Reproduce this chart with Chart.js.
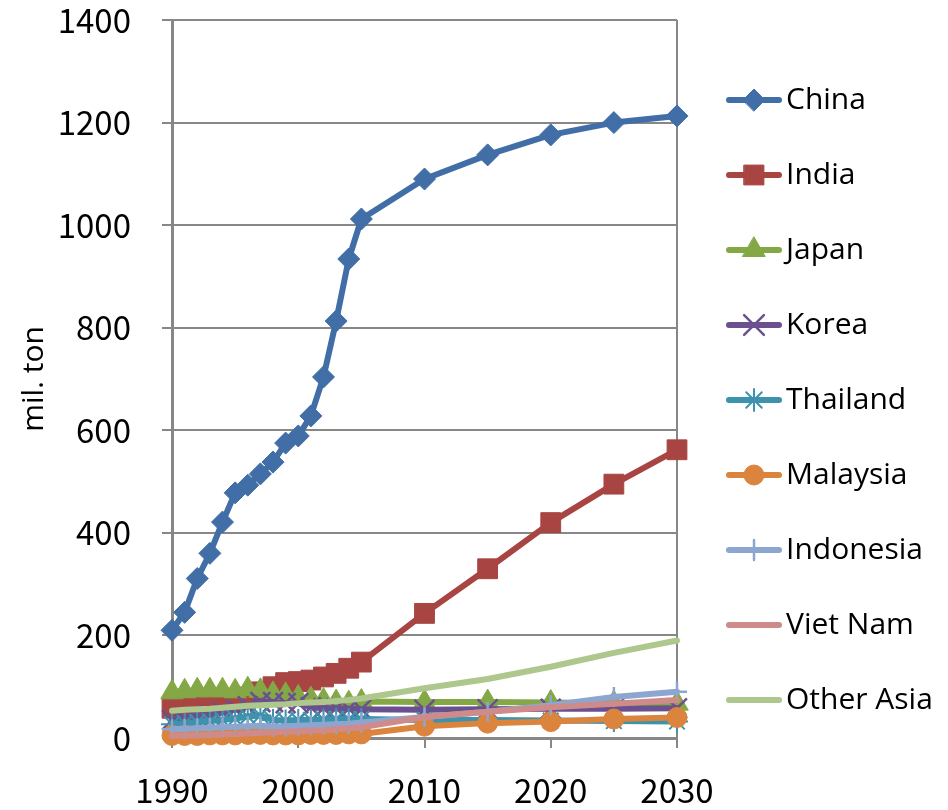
<!DOCTYPE html>
<html>
<head>
<meta charset="utf-8">
<script src="https://cdn.jsdelivr.net/npm/chart.js@4/dist/chart.umd.min.js"></script>
<style>
  html, body { margin: 0; padding: 0; background: #ffffff; }
  #wrap { width: 948px; height: 810px; }
</style>
</head>
<body>
<div id="wrap"><canvas id="c" width="948" height="810"></canvas></div>
<script>
// Years on the horizontal axis (yearly to 2005, then five-year steps)
const years = [1990, 1991, 1992, 1993, 1994, 1995, 1996, 1997, 1998, 1999, 2000,
               2001, 2002, 2003, 2004, 2005, 2010, 2015, 2020, 2025, 2030];

// Production by country, mil. ton
const china     = [210, 245, 311, 360, 421, 478, 493, 515, 538, 575, 589, 628, 704, 813, 934, 1012, 1090, 1137, 1176, 1200, 1213];
const india     = [58, 60, 62, 64, 66, 70, 80, 90, 100, 108, 110, 113, 119, 126, 136, 148, 243, 330, 420, 495, 562];
const japan     = [89, 91, 93, 93, 93, 91, 95, 92, 86, 84, 79, 76, 73, 70, 68, 71, 70, 70, 69, 68, 67];
const korea     = [35, 38, 42, 45, 50, 56, 62, 70, 70, 68, 68, 60, 58, 58, 57, 56, 55, 56, 57, 57, 58];
const thailand  = [27, 29, 31, 33, 35, 38, 42, 44, 35, 34, 35, 35, 36, 37, 37, 37, 35, 35, 34, 33, 32];
const malaysia  = [5, 5, 5, 6, 6, 6, 7, 7, 6, 6, 6, 7, 7, 7, 8, 8, 23, 29, 32, 37, 40];
const indonesia = [17, 18, 19, 20, 21, 22, 23, 24, 22, 23, 24, 25, 26, 27, 28, 30, 41, 51, 64, 80, 90];
const vietnam   = [4, 5, 5, 6, 7, 8, 9, 10, 11, 12, 13, 14, 15, 17, 19, 21, 41, 51, 60, 67, 74];
const otherAsia = [53, 55, 56, 57, 59, 61, 63, 64, 65, 66, 68, 69, 70, 72, 74, 77, 97, 115, 139, 166, 190];

const seriesNames = ['China', 'India', 'Japan', 'Korea', 'Thailand', 'Malaysia', 'Indonesia', 'Viet Nam', 'Other Asia'];
const seriesValues = [china, india, japan, korea, thailand, malaysia, indonesia, vietnam, otherAsia];

// Axis settings
const yTicks = { min: 0, max: 1400, step: 200 };
const xTicks = { min: 1990, max: 2030, step: 10 };

// Look of each series: colour, marker shape, marker size, marker outline width
const styles = [
  { color: '#416EA6', marker: 'rectRot',  r: 11, bw: 1 },
  { color: '#A84543', marker: 'rect',     r: 14, bw: 1 },
  { color: '#83A845', marker: 'triangle', r: 13, bw: 1 },
  { color: '#6B508F', marker: 'crossRot', r: 14, bw: 2.5 },
  { color: '#3C93AB', marker: 'star',     r: 11, bw: 2 },
  { color: '#DB843D', marker: 'circle',   r: 10, bw: 1 },
  { color: '#8DA6D0', marker: 'cross',    r: 10, bw: 2.5 },
  { color: '#CF8B8A', marker: false,      r: 0,  bw: 0 },
  { color: '#AEC78D', marker: false,      r: 0,  bw: 0 }
];

const GRID = '#878787';
const LINE_W = 6;

// Small legend swatches: a stroke of the series line with its marker
function makeSwatch(st) {
  const cv = document.createElement('canvas');
  cv.width = 71; cv.height = 32;
  const g = cv.getContext('2d');
  g.strokeStyle = st.color;
  g.lineWidth = LINE_W;
  g.lineCap = 'round';
  g.beginPath();
  g.moveTo(18, 16);
  g.lineTo(68, 16);
  g.stroke();
  if (st.marker) {
    g.fillStyle = st.color;
    g.strokeStyle = st.color;
    g.lineWidth = st.bw;
    Chart.helpers.drawPoint(g, { pointStyle: st.marker, radius: st.r, rotation: 0, borderWidth: st.bw }, 43, 16);
  }
  return cv;
}
const swatches = styles.map(makeSwatch);

const datasets = seriesNames.map((name, i) => {
  const st = styles[i];
  return {
    label: name,
    data: years.map((yr, k) => ({ x: yr, y: seriesValues[i][k] })),
    borderColor: st.color,
    backgroundColor: st.color,
    borderWidth: LINE_W,
    borderJoinStyle: 'round',
    borderCapStyle: 'round',
    tension: 0,
    pointStyle: st.marker || 'circle',
    pointRadius: st.r,
    pointBorderWidth: st.bw,
    pointBackgroundColor: st.color,
    pointBorderColor: st.color,
    pointHoverRadius: st.r,
    clip: false,
    order: seriesNames.length - i
  };
});

// Legend column: fixed width so the plot ends at the same place,
// and the list of entries nudged up a little
const legendPlacement = {
  id: 'legendPlacement',
  beforeLayout(chart) {
    const lg = chart.legend;
    if (lg && !lg._fixedFit) {
      const fit = lg.fit.bind(lg);
      lg.fit = function () { fit(); this.width = 262; };
      lg._fixedFit = true;
    }
  },
  afterLayout(chart) {
    const lg = chart.legend;
    if (lg) { lg.top -= 5; lg.bottom -= 5; }
  }
};

const chart = new Chart(document.getElementById('c'), {
  type: 'line',
  data: { datasets },
  plugins: [legendPlacement],
  options: {
    responsive: false,
    animation: false,
    events: [],
    layout: { padding: { top: 0, right: 9, bottom: 0, left: 0 } },
    scales: {
      x: {
        type: 'linear',
        min: xTicks.min,
        max: xTicks.max,
        afterFit(s) { s.height = 72; s.paddingLeft = 0; s.paddingRight = 0; },
        afterBuildTicks(s) {
          s.ticks = [];
          for (let v = xTicks.min; v <= xTicks.max; v += xTicks.step) s.ticks.push({ value: v });
        },
        ticks: {
          color: '#000',
          font: { family: 'Noto Sans CJK JP', size: 33 },
          padding: 23,
          maxRotation: 0,
          autoSkip: false,
          callback: v => String(v)
        },
        grid: {
          drawOnChartArea: true,
          color: c => (c.tick && c.tick.value === xTicks.max ? GRID : 'rgba(0,0,0,0)'),
          tickColor: GRID,
          tickLength: 10,
          lineWidth: 2
        },
        border: { display: true, color: GRID, width: 3 }
      },
      y: {
        min: yTicks.min,
        max: yTicks.max,
        afterFit(s) { s.width = 172; s.paddingTop = 20; s.paddingBottom = 0; },
        ticks: {
          stepSize: yTicks.step,
          color: '#000',
          font: { family: 'Noto Sans CJK JP', size: 33 },
          padding: 31,
          callback: v => String(v)
        },
        grid: { color: GRID, lineWidth: 2, tickLength: 10 },
        border: { display: true, color: GRID, width: 3 },
        title: {
          display: true,
          text: 'mil. ton',
          color: '#000',
          font: { family: "'Liberation Sans Narrow', 'Open Sans'", size: 30 },
          padding: { top: 16, bottom: 0 }
        }
      }
    },
    plugins: {
      tooltip: { enabled: false },
      legend: {
        position: 'right',
        align: 'center',
        labels: {
          usePointStyle: true,
          pointStyleWidth: 49,
          boxHeight: 30,
          padding: 45,
          color: '#000',
          font: { family: 'Open Sans', size: 30 },
          generateLabels: ch => ch.data.datasets.map((ds, i) => ({
            text: ds.label,
            pointStyle: swatches[i],
            datasetIndex: i,
            hidden: false,
            lineWidth: 0,
            fillStyle: ds.borderColor,
            strokeStyle: ds.borderColor,
            fontColor: '#000'
          }))
        }
      }
    }
  }
});
</script>
</body>
</html>
